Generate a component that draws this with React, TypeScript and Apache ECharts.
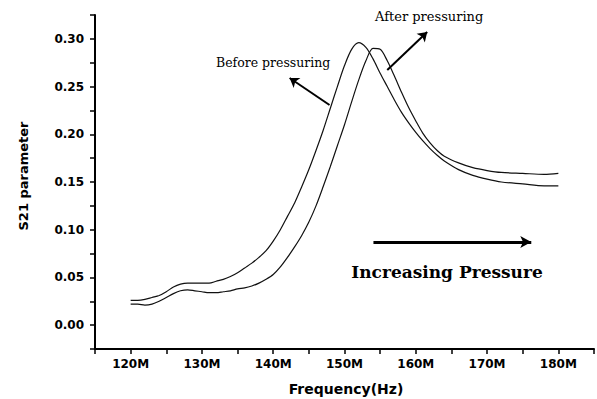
import React, { useEffect, useRef } from "react";
import * as echarts from "echarts";

const freqM = [120,121,122,123,124,125,126,127,128,129,130,131,132,133,134,135,136,137,138,139,140,141,142,143,144,145,146,147,148,149,150,151,152,153,154,155,156,157,158,159,160,161,162,163,164,166,168,170,172,175,178,180];

const beforePressuring = [0.026,0.026,0.027,0.029,0.031,0.035,0.040,0.043,0.044,0.044,0.044,0.044,0.046,0.048,0.051,0.055,0.060,0.065,0.071,0.078,0.088,0.100,0.114,0.128,0.145,0.163,0.183,0.204,0.227,0.250,0.272,0.289,0.296,0.291,0.279,0.264,0.250,0.236,0.223,0.212,0.202,0.193,0.185,0.178,0.172,0.163,0.157,0.153,0.150,0.148,0.146,0.146];

const afterPressuring = [0.022,0.022,0.021,0.022,0.025,0.029,0.033,0.036,0.037,0.036,0.035,0.034,0.034,0.035,0.036,0.038,0.039,0.041,0.044,0.048,0.053,0.061,0.071,0.082,0.094,0.108,0.125,0.145,0.166,0.188,0.210,0.234,0.257,0.277,0.290,0.289,0.277,0.261,0.244,0.228,0.214,0.201,0.191,0.183,0.177,0.170,0.165,0.162,0.160,0.159,0.158,0.159];

const xTickLabels = ["120M","130M","140M","150M","160M","170M","180M"];
const yTickLabels = ["0.00","0.05","0.10","0.15","0.20","0.25","0.30"];

export default function App() {
  const ref = useRef<HTMLDivElement>(null);
  useEffect(() => {
    if (!ref.current) return;
    const chart = echarts.init(ref.current, null, { renderer: "svg" });
    const sans = "DejaVu Sans";
    const serif = "DejaVu Serif";
    const arrowLine = { color: "#000", width: 2, type: "solid" as const };
    chart.setOption({
      animation: false,
      backgroundColor: "#fff",
      grid: { left: 95, right: 2, top: 15, bottom: 50 },
      xAxis: {
        type: "value",
        min: 115,
        max: 185,
        interval: 5,
        splitLine: { show: false },
        axisLine: { onZero: false, lineStyle: { color: "#000", width: 2 } },
        axisTick: { inside: false, length: 5, lineStyle: { color: "#000", width: 1.5 } },
        axisLabel: {
          margin: 9,
          color: "#000",
          fontFamily: sans,
          fontWeight: "bold",
          fontSize: 12,
          showMinLabel: true,
          showMaxLabel: true,
          formatter: (v: number) => {
            const r = Math.round(v);
            const lbl = r + "M";
            return xTickLabels.includes(lbl) ? lbl : "";
          },
        },
      },
      yAxis: {
        type: "value",
        min: -0.025,
        max: 0.325,
        interval: 0.025,
        splitLine: { show: false },
        axisLine: { onZero: false, lineStyle: { color: "#000", width: 2 } },
        axisTick: { inside: false, length: 5, lineStyle: { color: "#000", width: 1.5 } },
        axisLabel: {
          margin: 11,
          color: "#000",
          fontFamily: sans,
          fontWeight: "bold",
          fontSize: 12,
          formatter: (v: number) => {
            const s = (Math.round(v * 1000) / 1000).toFixed(2);
            const k = Math.round(v * 1000);
            return k % 50 === 0 && yTickLabels.includes(s) ? s : "";
          },
        },
      },
      series: [
        {
          name: "Before pressuring",
          type: "line",
          showSymbol: false,
          smooth: 0.3,
          data: freqM.map((f, i) => [f, beforePressuring[i]]),
          lineStyle: { color: "#111", width: 1.2 },
          markLine: {
            silent: true,
            symbol: ["none", "arrow"],
            symbolSize: 9,
            label: { show: false },
            lineStyle: arrowLine,
            data: [
              [{ coord: [147.9, 0.2307] }, { coord: [142.3, 0.259] }],
              [{ coord: [156.0, 0.2674] }, { coord: [161.6, 0.3072] }],
            ],
          },
        },
        {
          name: "After pressuring",
          type: "line",
          showSymbol: false,
          smooth: 0.3,
          data: freqM.map((f, i) => [f, afterPressuring[i]]),
          lineStyle: { color: "#111", width: 1.2 },
          markLine: {
            silent: true,
            symbol: ["none", "arrow"],
            symbolSize: [9, 11],
            label: { show: false },
            lineStyle: { color: "#000", width: 3, type: "solid" },
            data: [[{ coord: [154.06, 0.0871] }, { coord: [176.2, 0.0871] }]],
          },
        },
      ],
      graphic: [
        {
          type: "text",
          x: 216,
          y: 62,
          style: { text: "Before pressuring", font: `12.5px "${serif}"`, fill: "#000", textVerticalAlign: "middle" },
        },
        {
          type: "text",
          x: 375,
          y: 16,
          style: { text: "After pressuring", font: `13px "${serif}"`, fill: "#000", textVerticalAlign: "middle" },
        },
        {
          type: "text",
          x: 447,
          y: 272,
          style: {
            text: "Increasing Pressure",
            font: `bold 17px "${serif}"`,
            fill: "#000",
            textAlign: "center",
            textVerticalAlign: "middle",
          },
        },
        {
          type: "text",
          x: 346,
          y: 389,
          style: {
            text: "Frequency(Hz)",
            font: `bold 14px "${sans}"`,
            fill: "#000",
            textAlign: "center",
            textVerticalAlign: "middle",
          },
        },
        {
          type: "text",
          x: 23,
          y: 176,
          rotation: Math.PI / 2,
          style: {
            text: "S21 parameter",
            font: `bold 13px "${sans}"`,
            fill: "#000",
            textAlign: "center",
            textVerticalAlign: "middle",
          },
        },
      ],
    });
    return () => chart.dispose();
  }, []);
  return (
    <div
      ref={ref}
      style={{ position: "absolute", left: 0, top: 0, width: 597, height: 399 }}
    />
  );
}
